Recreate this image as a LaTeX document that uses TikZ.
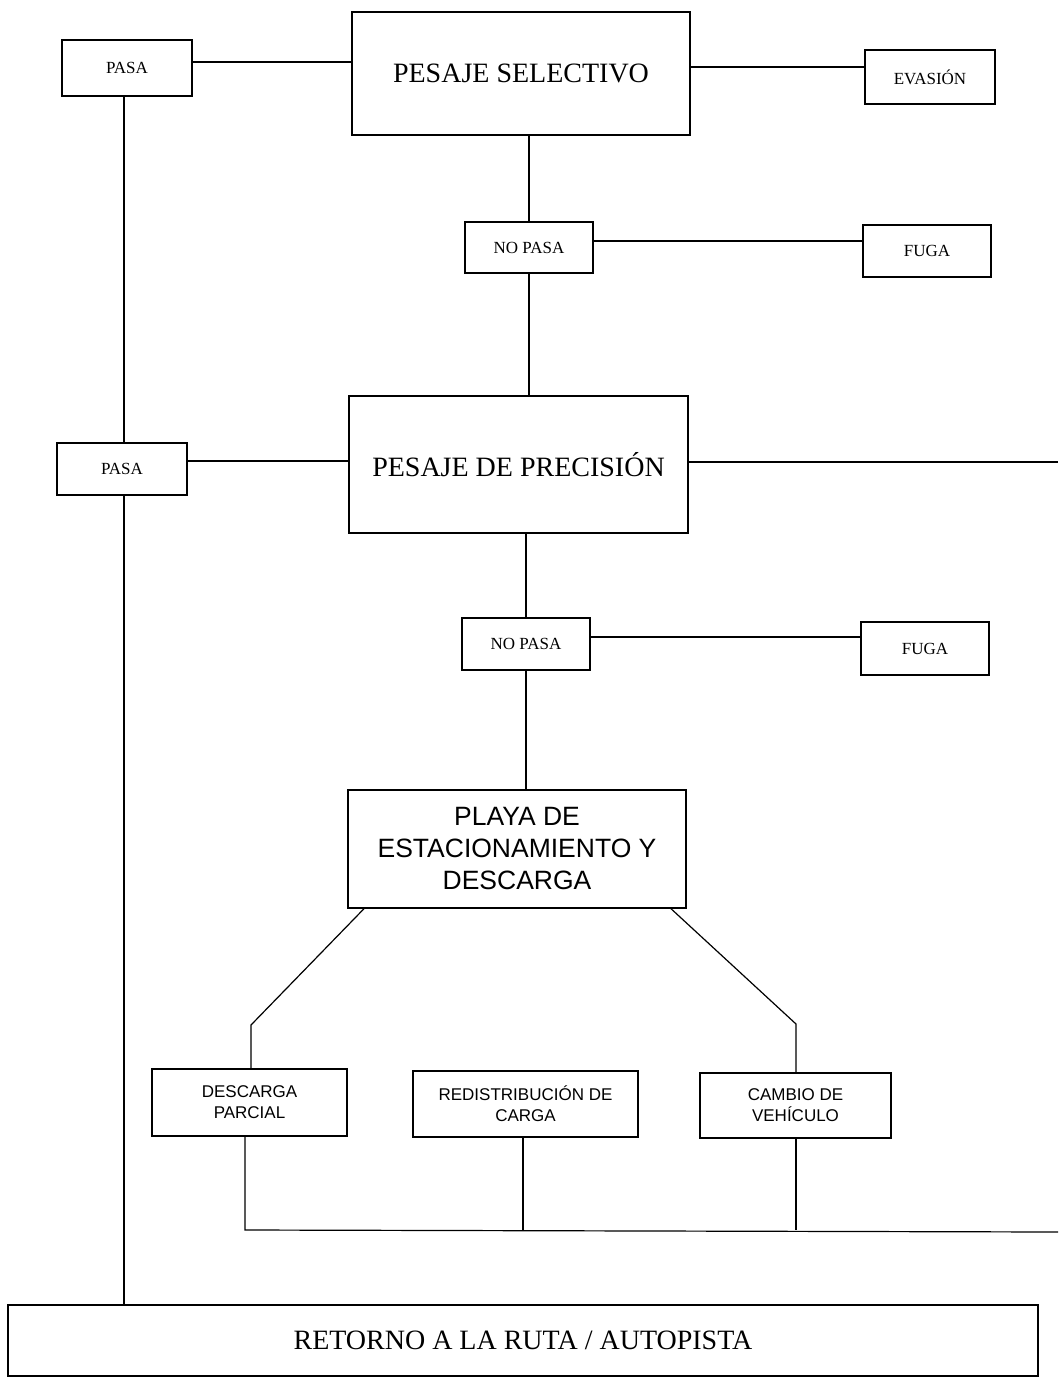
\documentclass[tikz,border=0pt]{standalone}
\usepackage{fontspec}
\setmainfont{Liberation Serif}
\setsansfont{Liberation Sans}
\begin{document}
\begin{tikzpicture}[x=1pt,y=-1pt,
  box/.style={draw, line width=1.4pt, inner sep=0pt, align=center},
  big/.style={box, font=\fontsize{28}{32}\selectfont},
  small/.style={box, font=\fontsize{17}{20}\selectfont},
  bigsans/.style={box, font=\sffamily\fontsize{26.5}{32}\selectfont},
  smallsans/.style={box, font=\sffamily\fontsize{17}{21}\selectfont},
  link/.style={draw, line width=1.2pt}]
\useasboundingbox (0,0) rectangle (1058,1381);
\fill[white] (0,0) rectangle (1058,1381);

% nodes
\node[small, minimum width=130pt, minimum height=56pt] (pasa1) at (127,68) {PASA};
\node[big, minimum width=338pt, minimum height=123pt] (ps) at (521,73.5) {PESAJE SELECTIVO};
\node[small, minimum width=130pt, minimum height=54pt] (evasion) at (930,77) {EVASIÓN};
\node[small, minimum width=128pt, minimum height=51pt] (nopasa1) at (529,247.5) {NO PASA};
\node[small, minimum width=128pt, minimum height=52pt] (fuga1) at (927,251) {FUGA};
\node[small, minimum width=130pt, minimum height=52pt] (pasa2) at (122,469) {PASA};
\node[big, minimum width=339pt, minimum height=137pt] (pp) at (518.5,464.5) {PESAJE DE PRECISIÓN};
\node[small, minimum width=128pt, minimum height=52pt] (nopasa2) at (526,644) {NO PASA};
\node[small, minimum width=128pt, minimum height=53pt] (fuga2) at (925,648.5) {FUGA};
\node[bigsans, minimum width=338pt, minimum height=118pt] (playa) at (517,849) {PLAYA DE\\ESTACIONAMIENTO Y\\DESCARGA};
\node[smallsans, minimum width=195pt, minimum height=67pt] (desc) at (249.5,1102.5) {DESCARGA\\PARCIAL};
\node[smallsans, minimum width=225pt, minimum height=66pt] (redis) at (525.5,1104) {REDISTRIBUCIÓN DE\\CARGA};
\node[smallsans, minimum width=191pt, minimum height=65pt] (cambio) at (795.5,1105.5) {CAMBIO DE\\VEHÍCULO};
\node[big, minimum width=1030pt, minimum height=71pt] (retorno) at (523,1340.5) {RETORNO A LA RUTA / AUTOPISTA};

% helper coordinates
\coordinate (y1) at (0,62);
\coordinate (y2) at (0,67);
\coordinate (y4) at (0,241);
\coordinate (y7) at (0,461);
\coordinate (y10) at (0,637);
\coordinate (vx) at (124,0);
\coordinate (ppend) at (1058,462);
\coordinate (bl) at (364,0);
\coordinate (br) at (671,0);
\coordinate (kl) at (251,1025);
\coordinate (kr) at (796,1024);
\coordinate (baseL) at (245,1230);
\coordinate (baseR) at (1058,1232);
\coordinate (bx1) at (245,0);
\coordinate (bx2) at (523,0);
\coordinate (bx3) at (796,0);

% connectors
\draw[link] (pasa1.east |- y1) -- (ps.west |- y1);
\draw[link] (ps.east |- y2) -- (evasion.west |- y2);
\draw[link] (ps.south -| nopasa1.north) -- (nopasa1.north);
\draw[link] (nopasa1.east |- y4) -- (fuga1.west |- y4);
\draw[link] (nopasa1.south) -- (nopasa1.south |- pp.north);
\draw[link] (vx |- pasa1.south) -- (vx |- pasa2.north);
\draw[link] (vx |- pasa2.south) -- (vx |- retorno.north);
\draw[link] (pasa2.east |- y7) -- (pp.west |- y7);
\draw[link] (pp.east |- ppend) -- (ppend);
\draw[link] (pp.south -| nopasa2.north) -- (nopasa2.north);
\draw[link] (nopasa2.east |- y10) -- (fuga2.west |- y10);
\draw[link] (nopasa2.south) -- (nopasa2.south |- playa.north);
\draw[link] (bl |- playa.south) -- (kl) -- (kl |- desc.north);
\draw[link] (playa.south -| nopasa2.south) -- (playa.south -| nopasa2.south |- redis.north);
\draw[link] (br |- playa.south) -- (kr) -- (kr |- cambio.north);
\draw[link] (bx1 |- desc.south) -- (baseL) -- (baseR);
\draw[link] (bx2 |- redis.south) -- (bx2 |- baseL);
\draw[link] (bx3 |- cambio.south) -- (bx3 |- baseL);
\end{tikzpicture}
\end{document}
